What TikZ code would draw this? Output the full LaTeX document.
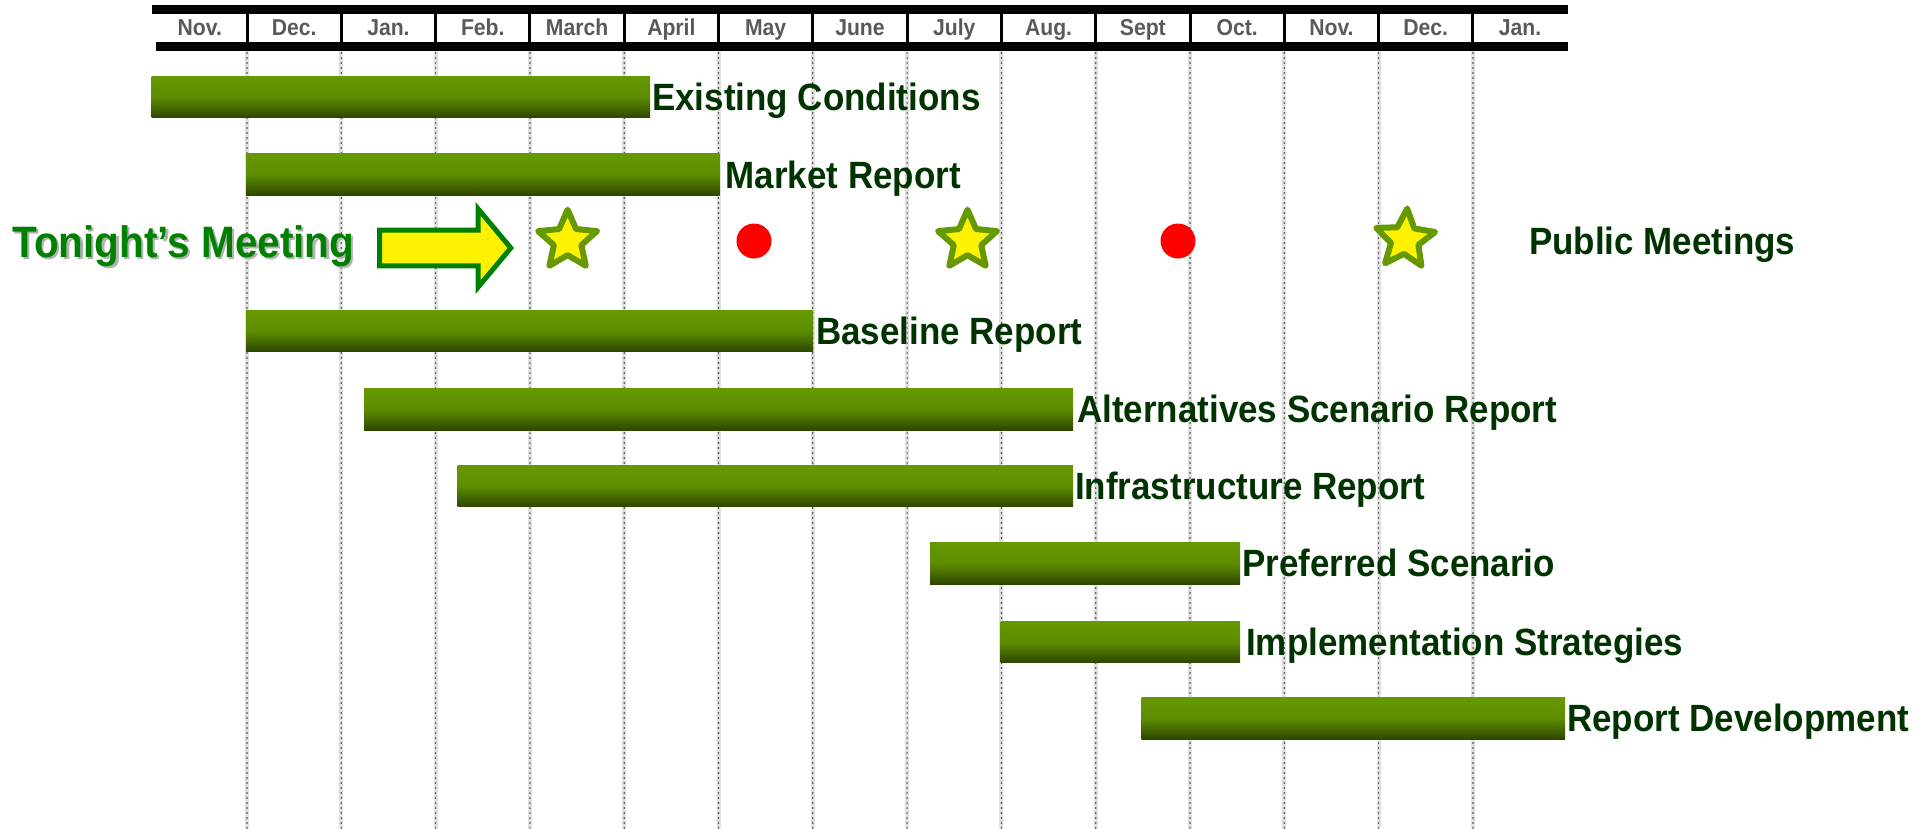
\documentclass[tikz,border=0pt]{standalone}
\usepackage{fontspec}
\setmainfont{Liberation Sans}
\newfontfamily\narrowsans[FakeStretch=0.92]{Liberation Sans}
\usetikzlibrary{positioning,shapes.geometric}
\definecolor{bartop}{RGB}{102,153,0}
\definecolor{barbot}{RGB}{45,70,0}
\definecolor{lbl}{RGB}{0,51,0}
\definecolor{monthgray}{RGB}{89,89,89}
\definecolor{tonight}{RGB}{0,128,0}
\definecolor{starrim}{RGB}{102,153,0}

\begin{document}
\begin{tikzpicture}[x=1pt,y=-1pt,
  bar/.style={anchor=north west,inner sep=0pt,outer sep=0pt,minimum height=41.5pt,
    top color=bartop,bottom color=barbot,middle color=bartop!85!barbot},
  task/.style={inner xsep=2pt,inner ysep=0pt,text height=27pt,text depth=0pt,
    text=lbl,font=\narrowsans\fontsize{38}{38}\selectfont\bfseries},
  monthlbl/.style={inner sep=0pt,text height=16.5pt,text depth=0pt,
    text=monthgray,font=\narrowsans\fontsize{23}{23}\selectfont\bfseries},
  meetstar/.style={star,star points=5,star point ratio=2.15,minimum size=62pt,inner sep=0pt,
    fill=yellow,draw=starrim,line width=6pt,line join=round},
  meetdot/.style={circle,fill=red,minimum size=35pt,inner sep=0pt}]
\useasboundingbox (0,0) rectangle (1929,828);

% month grid
\foreach \k in {1,...,14}{
  \draw[black!12,line width=4pt] ({152.7+94.3*\k},51) -- ({152.7+94.3*\k},828);
  \draw[black!80,line width=1.7pt,line cap=round,dash pattern=on 0pt off 5pt]
    ({152.7+94.3*\k},53) -- ({152.7+94.3*\k},828);
}

% header
\fill (151.7,5) rectangle (1568,14);
\fill (156,42) rectangle (1568,51);
\foreach \k in {1,...,14}
  \fill ({152.7+94.3*\k-1.5},14) rectangle ++(3,28);
\foreach \m [count=\i from 0] in {Nov.,Dec.,Jan.,Feb.,March,April,May,June,July,Aug.,Sept,Oct.,Nov.,Dec.,Jan.}
  \node[monthlbl] (month\i) at ({152.7+94.3*(\i+0.5)},27.5) {\m};

% tasks
\node[bar,minimum width=498.5pt] (existing) at (151.5,76.3) {};
\node[task,right=0pt of existing] (existinglbl) {Existing Conditions};
\node[bar,minimum width=473.5pt] (market) at (246,153.9) {};
\node[task,right=4pt of market] (marketlbl) {Market Report};
\node[bar,minimum width=567pt] (baseline) at (246,310) {};
\node[task,right=1pt of baseline] (baselinelbl) {Baseline Report};
\node[bar,minimum width=709pt] (alternatives) at (364,388.7) {};
\node[task,right=2pt of alternatives] (alternativeslbl) {Alternatives Scenario Report};
\node[bar,minimum width=615.4pt] (infrastructure) at (457.6,465.2) {};
\node[task,right=0pt of infrastructure] (infrastructurelbl) {Infrastructure Report};
\node[bar,minimum width=310pt] (preferred) at (930,542.7) {};
\node[task,right=0pt of preferred] (preferredlbl) {Preferred Scenario};
\node[bar,minimum width=239.3pt] (implementation) at (1000.7,621.3) {};
\node[task,right=4pt of implementation] (implementationlbl) {Implementation Strategies};
\node[bar,minimum width=423.4pt] (reportdev) at (1141.6,697.6) {};
\node[task,right=0pt of reportdev] (reportdevlbl) {Report Development};

% public meetings
\node[anchor=west,inner sep=0pt,text height=31pt,text depth=0pt,text=black!30,
  font=\narrowsans\fontsize{44}{44}\selectfont\bfseries] (tonightshadow) at (14.5,243.5) {Tonight’s Meeting};
\node[anchor=west,inner sep=0pt,text height=31pt,text depth=0pt,text=tonight,
  font=\narrowsans\fontsize{44}{44}\selectfont\bfseries] (tonight) at (12.3,241.5) {Tonight’s Meeting};
\draw[fill=yellow,draw=tonight,line width=5pt]
  (379.5,230.2) -- (478.2,230.2) -- (478.2,209) -- (510.8,248)
  -- (478.2,287) -- (478.2,265.8) -- (379.5,265.8) -- cycle;
\node[meetstar] (star1) at (567.6,240.7) {};
\node[meetdot] (dot1) at (754,241) {};
\node[meetstar] (star2) at (967.5,240.7) {};
\node[meetdot] (dot2) at (1178,241) {};
\node[meetstar,rotate=-4] (star3) at (1405,239.5) {};
\node[task,anchor=west,inner xsep=0pt] (publiclbl) at (1529,241) {Public Meetings};
\end{tikzpicture}
\end{document}
